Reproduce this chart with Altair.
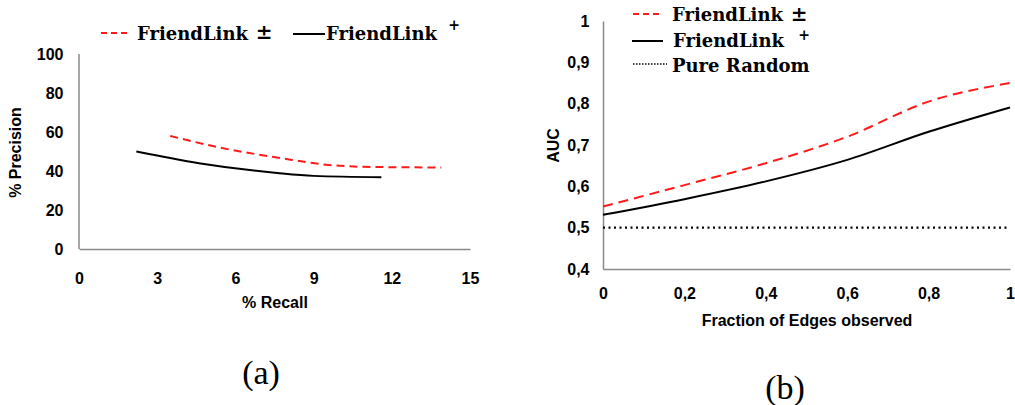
import altair as alt
import pandas as pd

# Panel (a): precision vs recall
recall_pm = [3.5, 5.4, 7.8, 9.3, 10.8, 13.9]
precision_pm = [58.0, 52.0, 46.5, 43.5, 42.2, 41.8]
recall_p = [2.2, 4.6, 7.6, 9.0, 11.6]
precision_p = [50.0, 44.0, 39.0, 37.5, 36.8]
recall_ticks = [0, 3, 6, 9, 12, 15]
precision_ticks = [0, 20, 40, 60, 80, 100]

# Panel (b): AUC vs fraction of observed edges
fraction = [0.0, 0.2, 0.4, 0.6, 0.8, 1.0]
auc_pm = [0.551, 0.603, 0.656, 0.720, 0.805, 0.850]
auc_p = [0.531, 0.569, 0.612, 0.664, 0.732, 0.791]
auc_random = [0.5, 0.5, 0.5, 0.5, 0.5, 0.5]
fraction_ticks = [0.0, 0.2, 0.4, 0.6, 0.8, 1.0]
auc_ticks = [0.4, 0.5, 0.6, 0.7, 0.8, 0.9, 1.0]

method_name = "FriendLink"
random_name = "Pure Random"
captions = ["(a)", "(b)"]

RED = "#ff1a1a"
AXIS_GREY = "#8a8a8a"
SERIF = "DejaVu Serif"
SANS = "Liberation Sans"
COMMA_FMT = "replace(format(datum.value, '~g'), '.', ',')"

# panel (a) keeps headroom above 100 for its legend
A_W, A_H = 391, 228
A_TOP = 100 * A_H / 195.0
B_W, B_H = 407, 248


def one(**kw):
    return pd.DataFrame({k: [v] for k, v in kw.items()})


def label(txt, x, y, size=18, font=SERIF, weight="bold", align="left", baseline="alphabetic"):
    return alt.Chart(one(t=txt)).mark_text(
        font=font, fontSize=size, fontWeight=weight, align=align,
        baseline=baseline, color="black"
    ).encode(text="t:N", x=alt.value(x), y=alt.value(y))


def sample(x1, x2, y, color, dash=None, width=2.0):
    kw = dict(color=color, strokeWidth=width)
    if dash:
        kw["strokeDash"] = dash
    return alt.Chart(one(a=0)).mark_rule(**kw).encode(
        x=alt.value(x1), x2=alt.value(x2), y=alt.value(y)
    )


def anchor(x, y):
    return alt.Chart(one(a=0)).mark_rule(opacity=0, strokeWidth=0).encode(
        x=alt.value(x), x2=alt.value(x), y=alt.value(y), y2=alt.value(y)
    )


# ---------- panel (a) ----------
xa = alt.Scale(domain=[recall_ticks[0], recall_ticks[-1]], nice=False)
ya = alt.Scale(domain=[0, A_TOP], nice=False)

xa_axis = alt.Axis(values=recall_ticks, labelPadding=21, labelFlush=False,
                   title="% Recall", titleY=53, titleBaseline="middle", format="d")
ya_axis = alt.Axis(values=precision_ticks, domain=False, labelPadding=16, labelFlush=False,
                   title="% Precision", titleX=-64, titleY=131,
                   titleBaseline="middle", titleAlign="center", titleAngle=270)

df_a_pm = pd.DataFrame({"recall": recall_pm, "precision": precision_pm})
df_a_p = pd.DataFrame({"recall": recall_p, "precision": precision_p})

a_pm = alt.Chart(df_a_pm).mark_line(
    color=RED, strokeWidth=2, strokeDash=[8, 5], interpolate="monotone"
).encode(
    x=alt.X("recall:Q", scale=xa, axis=xa_axis),
    y=alt.Y("precision:Q", scale=ya, axis=ya_axis),
)
a_p = alt.Chart(df_a_p).mark_line(
    color="black", strokeWidth=2, interpolate="monotone"
).encode(x=alt.X("recall:Q", scale=xa), y=alt.Y("precision:Q", scale=ya))

# y axis line only spans the tick range
a_yline = alt.Chart(one(x=recall_ticks[0], y=precision_ticks[0], y2=precision_ticks[-1])).mark_rule(
    color=AXIS_GREY, strokeWidth=1.5
).encode(x=alt.X("x:Q", scale=xa), y=alt.Y("y:Q", scale=ya), y2="y2:Q")

a_legend = [
    sample(22, 49, 12, RED, dash=[6, 4]),
    label(method_name, 58, 19),
    label("±", 185, 18, size=20, align="center"),
    sample(214, 246, 13, "black"),
    label(method_name, 247, 19),
    label("+", 375, 9, size=14, align="center"),
]

panel_a = alt.layer(
    a_yline, a_pm, a_p, *a_legend,
    label(captions[0], 182, 353, size=34, font="Liberation Serif", weight="normal",
          align="center", baseline="middle"),
    anchor(-79, -21),
).properties(width=A_W, height=A_H)

# ---------- panel (b) ----------
xb = alt.Scale(domain=[fraction_ticks[0], fraction_ticks[-1]], nice=False)
yb = alt.Scale(domain=[auc_ticks[0], auc_ticks[-1]], nice=False, zero=False)

xb_axis = alt.Axis(values=fraction_ticks, labelPadding=16, labelFlush=False,
                   labelExpr=COMMA_FMT, title="Fraction of Edges observed",
                   titleY=51, titleBaseline="middle")
yb_axis = alt.Axis(values=auc_ticks, labelPadding=14, labelFlush=False,
                   labelExpr=COMMA_FMT, title="AUC", titleX=-50, titleY=124,
                   titleBaseline="middle", titleAlign="center", titleAngle=270)

df_b = pd.DataFrame({"fraction": fraction, "pm": auc_pm, "p": auc_p, "rnd": auc_random})

b_rnd = alt.Chart(df_b).mark_line(
    color="black", strokeWidth=2.2, strokeDash=[2, 3.5]
).encode(
    x=alt.X("fraction:Q", scale=xb, axis=xb_axis),
    y=alt.Y("rnd:Q", scale=yb, axis=yb_axis),
)
b_pm = alt.Chart(df_b).mark_line(
    color=RED, strokeWidth=2, strokeDash=[10, 6], interpolate="monotone"
).encode(x=alt.X("fraction:Q", scale=xb), y=alt.Y("pm:Q", scale=yb))
b_p = alt.Chart(df_b).mark_line(
    color="black", strokeWidth=2, interpolate="monotone"
).encode(x=alt.X("fraction:Q", scale=xb), y=alt.Y("p:Q", scale=yb))

b_legend = [
    sample(30, 59, -7, RED, dash=[6, 4]),
    label(method_name, 69, 0),
    label("±", 196, 0, size=20, align="center"),
    sample(29, 60, 20, "black"),
    label(method_name, 70, 26),
    label("+", 201, 19, size=14, align="center"),
    sample(30, 64, 43, "black", dash=[1.5, 1.5], width=1.5),
    label(random_name, 69, 51),
]

panel_b = alt.layer(
    b_rnd, b_pm, b_p, *b_legend,
    label(captions[1], 182, 368, size=34, font="Liberation Serif", weight="normal",
          align="center", baseline="middle"),
    anchor(412, 384),
).properties(width=B_W, height=B_H)

chart = alt.hconcat(panel_a, panel_b, spacing=133, bounds="flush").properties(
    padding=0, background="white"
).configure_axis(
    labelFont=SANS, labelFontSize=16, labelFontWeight="bold", labelColor="black",
    titleFont=SANS, titleFontSize=16, titleFontWeight="bold", titleColor="black",
    ticks=False, grid=False, domainColor=AXIS_GREY, domainWidth=1.5,
).configure_view(stroke=None)

chart.save("out.html", embed_options={"renderer": "svg", "actions": False})
